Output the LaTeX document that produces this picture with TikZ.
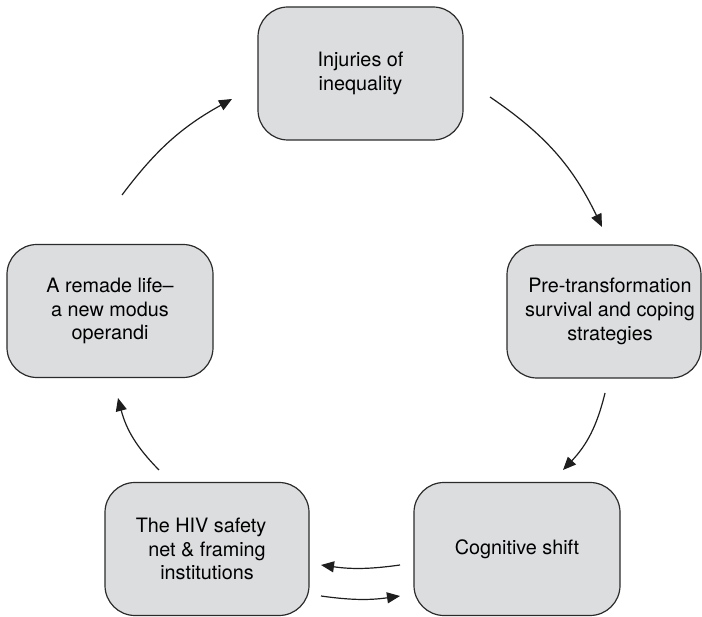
\documentclass[tikz,border=0pt]{standalone}
\usepackage{fontspec}
\setmainfont{TeX Gyre Heros}
\usetikzlibrary{arrows.meta}
\definecolor{boxfill}{HTML}{DCDDDF}
\definecolor{boxline}{HTML}{2B2B2B}
\definecolor{arrowcol}{HTML}{1E1E1E}
\begin{document}
\begin{tikzpicture}[x=1bp,y=1bp,
  stagebox/.style={draw=boxline, fill=boxfill, line width=1.2bp, rounded corners=30bp,
    align=center, inner sep=0pt, minimum height=133bp,
    font=\fontsize{19.8bp}{23.7bp}\selectfont},
  flow/.style={draw=arrowcol, line width=1.2bp, -{Triangle[length=13bp,width=11bp]}}]
\useasboundingbox (0,0) rectangle (702,617);

\node[stagebox, minimum width=205bp] (inj) at (360.5,543.5) {Injuries of\\inequality};
\node[stagebox, minimum width=194bp] (pre) at (604,305.5) {\hspace*{12bp}Pre-transformation\\\hspace*{12bp}survival and coping\\\hspace*{12bp}strategies};
\node[stagebox, minimum width=206bp] (cog) at (517,68) {Cognitive shift};
\node[stagebox, minimum width=204bp] (hiv) at (207,68) {The HIV safety\hspace*{12bp}\\net \& framing\\institutions};
\node[stagebox, minimum width=206bp] (rem) at (110,306) {A remade life–\\a new modus\\operandi};

\coordinate (a1s) at (490,520); \coordinate (a1e) at (602,390);
\coordinate (a2s) at (605,224); \coordinate (a2e) at (563,147);
\coordinate (a3s) at (400,52);  \coordinate (a3e) at (321,52);
\coordinate (a4s) at (321,21);  \coordinate (a4e) at (400,21);
\coordinate (a5s) at (159,147); \coordinate (a5e) at (118,219);
\coordinate (a6s) at (122,422); \coordinate (a6e) at (232,518);

\draw[flow] (a1s) to[bend left=15] (a1e);
\draw[flow] (a2s) to[bend left=15] (a2e);
\draw[flow] (a3s) to[bend left=8] (a3e);
\draw[flow] (a4s) to[bend right=8] (a4e);
\draw[flow] (a5s) to[bend left=15] (a5e);
\draw[flow] (a6s) to[bend left=12] (a6e);
\end{tikzpicture}
\end{document}
